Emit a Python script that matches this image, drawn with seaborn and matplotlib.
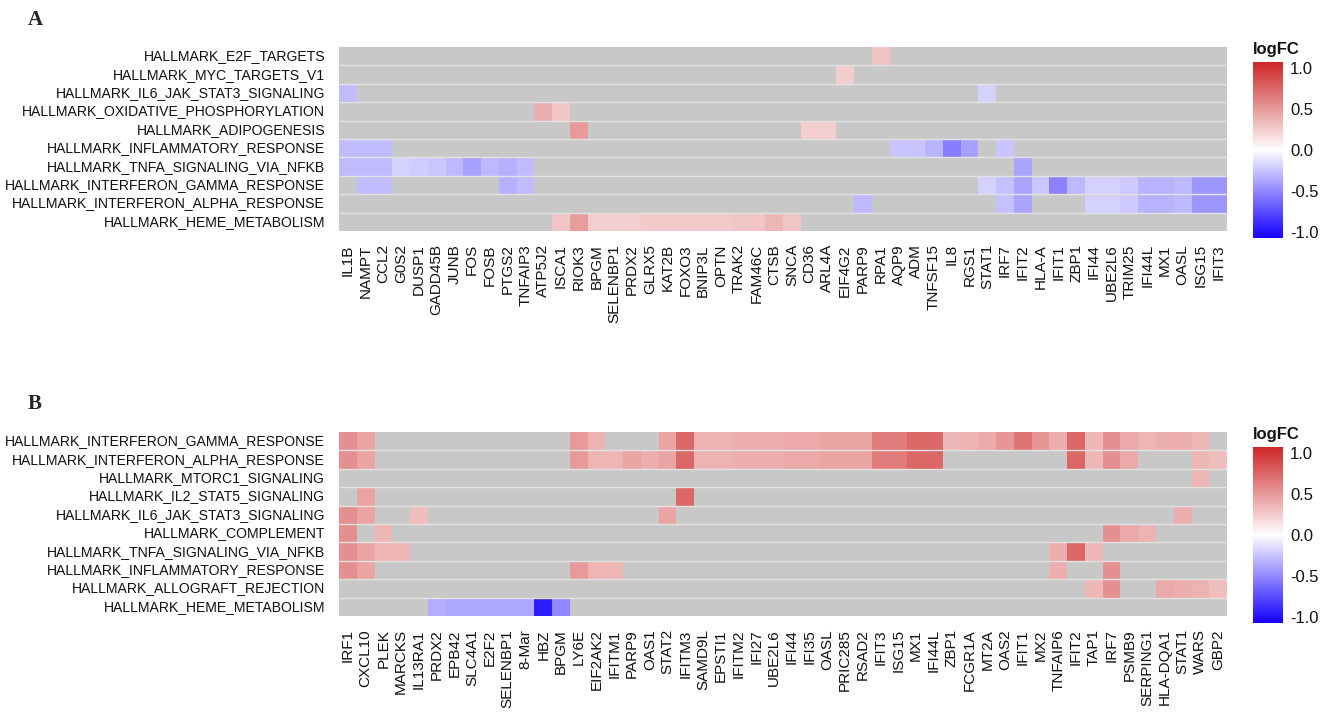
import numpy as np
import pandas as pd
import seaborn as sns
import matplotlib.pyplot as plt
from matplotlib.colors import LinearSegmentedColormap

# ---- panel A ----
genes_a = ["IL1B", "NAMPT", "CCL2", "G0S2", "DUSP1", "GADD45B", "JUNB", "FOS", "FOSB", "PTGS2",
           "TNFAIP3", "ATP5J2", "ISCA1", "RIOK3", "BPGM", "SELENBP1", "PRDX2", "GLRX5", "KAT2B", "FOXO3",
           "BNIP3L", "OPTN", "TRAK2", "FAM46C", "CTSB", "SNCA", "CD36", "ARL4A", "EIF4G2", "PARP9",
           "RPA1", "AQP9", "ADM", "TNFSF15", "IL8", "RGS1", "STAT1", "IRF7", "IFIT2", "HLA-A",
           "IFIT1", "ZBP1", "IFI44", "UBE2L6", "TRIM25", "IFI44L", "MX1", "OASL", "ISG15", "IFIT3"]
pathways_a = ["HALLMARK_E2F_TARGETS", "HALLMARK_MYC_TARGETS_V1", "HALLMARK_IL6_JAK_STAT3_SIGNALING",
              "HALLMARK_OXIDATIVE_PHOSPHORYLATION", "HALLMARK_ADIPOGENESIS", "HALLMARK_INFLAMMATORY_RESPONSE",
              "HALLMARK_TNFA_SIGNALING_VIA_NFKB", "HALLMARK_INTERFERON_GAMMA_RESPONSE",
              "HALLMARK_INTERFERON_ALPHA_RESPONSE", "HALLMARK_HEME_METABOLISM"]
a_e2f = {"RPA1": 0.30}
a_myc = {"EIF4G2": 0.25}
a_il6 = {"IL1B": -0.28, "STAT1": -0.20}
a_oxphos = {"ATP5J2": 0.40, "ISCA1": 0.28}
a_adipo = {"RIOK3": 0.50, "CD36": 0.24, "ARL4A": 0.24}
a_inflam = {"IL1B": -0.28, "NAMPT": -0.28, "CCL2": -0.28, "AQP9": -0.25, "ADM": -0.25,
            "TNFSF15": -0.31, "IL8": -0.55, "RGS1": -0.40, "IRF7": -0.25}
a_tnfa = {"IL1B": -0.28, "NAMPT": -0.28, "CCL2": -0.28, "G0S2": -0.20, "DUSP1": -0.21,
          "GADD45B": -0.24, "JUNB": -0.29, "FOS": -0.40, "FOSB": -0.30, "PTGS2": -0.33,
          "TNFAIP3": -0.28, "IFIT2": -0.38}
a_ifng = {"NAMPT": -0.28, "CCL2": -0.28, "PTGS2": -0.33, "TNFAIP3": -0.28, "STAT1": -0.20,
          "IRF7": -0.26, "IFIT2": -0.38, "HLA-A": -0.24, "IFIT1": -0.52, "ZBP1": -0.30,
          "IFI44": -0.20, "UBE2L6": -0.20, "TRIM25": -0.22, "IFI44L": -0.32, "MX1": -0.32,
          "OASL": -0.30, "ISG15": -0.44, "IFIT3": -0.44}
a_ifna = {"PARP9": -0.30, "IRF7": -0.26, "IFIT2": -0.38, "IFI44": -0.20, "UBE2L6": -0.20,
          "TRIM25": -0.22, "IFI44L": -0.32, "MX1": -0.32, "OASL": -0.30, "ISG15": -0.44,
          "IFIT3": -0.44}
a_heme = {"ISCA1": 0.28, "RIOK3": 0.48, "BPGM": 0.24, "SELENBP1": 0.24, "PRDX2": 0.24,
          "GLRX5": 0.26, "KAT2B": 0.26, "FOXO3": 0.26, "BNIP3L": 0.26, "OPTN": 0.26,
          "TRAK2": 0.28, "FAM46C": 0.28, "CTSB": 0.36, "SNCA": 0.28}
rows_a = [a_e2f, a_myc, a_il6, a_oxphos, a_adipo, a_inflam, a_tnfa, a_ifng, a_ifna, a_heme]

# ---- panel B ----
genes_b = ["IRF1", "CXCL10", "PLEK", "MARCKS", "IL13RA1", "PRDX2", "EPB42", "SLC4A1", "E2F2", "SELENBP1",
           "8-Mar", "HBZ", "BPGM", "LY6E", "EIF2AK2", "IFITM1", "PARP9", "OAS1", "STAT2", "IFITM3",
           "SAMD9L", "EPSTI1", "IFITM2", "IFI27", "UBE2L6", "IFI44", "IFI35", "OASL", "PRIC285", "RSAD2",
           "IFIT3", "ISG15", "MX1", "IFI44L", "ZBP1", "FCGR1A", "MT2A", "OAS2", "IFIT1", "MX2",
           "TNFAIP6", "IFIT2", "TAP1", "IRF7", "PSMB9", "SERPING1", "HLA-DQA1", "STAT1", "WARS", "GBP2"]
pathways_b = ["HALLMARK_INTERFERON_GAMMA_RESPONSE", "HALLMARK_INTERFERON_ALPHA_RESPONSE",
              "HALLMARK_MTORC1_SIGNALING", "HALLMARK_IL2_STAT5_SIGNALING", "HALLMARK_IL6_JAK_STAT3_SIGNALING",
              "HALLMARK_COMPLEMENT", "HALLMARK_TNFA_SIGNALING_VIA_NFKB", "HALLMARK_INFLAMMATORY_RESPONSE",
              "HALLMARK_ALLOGRAFT_REJECTION", "HALLMARK_HEME_METABOLISM"]
b_ifng = {"IRF1": 0.55, "CXCL10": 0.45, "LY6E": 0.50, "EIF2AK2": 0.38, "STAT2": 0.45, "IFITM3": 0.75,
          "SAMD9L": 0.38, "EPSTI1": 0.38, "IFITM2": 0.40, "IFI27": 0.40, "UBE2L6": 0.40, "IFI44": 0.42,
          "IFI35": 0.42, "OASL": 0.45, "PRIC285": 0.45, "RSAD2": 0.45, "IFIT3": 0.65, "ISG15": 0.65,
          "MX1": 0.75, "IFI44L": 0.75, "ZBP1": 0.35, "FCGR1A": 0.38, "MT2A": 0.42, "OAS2": 0.52,
          "IFIT1": 0.68, "MX2": 0.52, "TNFAIP6": 0.40, "IFIT2": 0.75, "TAP1": 0.35, "IRF7": 0.55,
          "PSMB9": 0.42, "SERPING1": 0.36, "HLA-DQA1": 0.40, "STAT1": 0.40, "WARS": 0.36}
b_ifna = {"IRF1": 0.55, "CXCL10": 0.45, "LY6E": 0.50, "EIF2AK2": 0.36, "IFITM1": 0.36, "PARP9": 0.45,
          "OAS1": 0.40, "STAT2": 0.45, "IFITM3": 0.75, "SAMD9L": 0.38, "EPSTI1": 0.38, "IFITM2": 0.40,
          "IFI27": 0.40, "UBE2L6": 0.40, "IFI44": 0.42, "IFI35": 0.42, "OASL": 0.45, "PRIC285": 0.45,
          "RSAD2": 0.45, "IFIT3": 0.65, "ISG15": 0.65, "MX1": 0.75, "IFI44L": 0.75, "IFIT2": 0.75,
          "TAP1": 0.35, "IRF7": 0.55, "PSMB9": 0.42, "WARS": 0.36, "GBP2": 0.32}
b_mtorc1 = {"WARS": 0.36}
b_il2 = {"CXCL10": 0.45, "IFITM3": 0.75}
b_il6 = {"IRF1": 0.55, "CXCL10": 0.45, "IL13RA1": 0.33, "STAT2": 0.45, "STAT1": 0.40}
b_compl = {"IRF1": 0.55, "PLEK": 0.36, "IRF7": 0.55, "PSMB9": 0.42, "SERPING1": 0.38}
b_tnfa = {"IRF1": 0.55, "CXCL10": 0.45, "PLEK": 0.36, "MARCKS": 0.36, "TNFAIP6": 0.40,
          "IFIT2": 0.75, "TAP1": 0.35}
b_inflam = {"IRF1": 0.55, "CXCL10": 0.45, "LY6E": 0.50, "EIF2AK2": 0.36, "IFITM1": 0.36,
            "TNFAIP6": 0.40, "IRF7": 0.55}
b_allo = {"TAP1": 0.35, "IRF7": 0.55, "HLA-DQA1": 0.42, "STAT1": 0.40, "WARS": 0.38, "GBP2": 0.32}
b_heme = {"PRDX2": -0.35, "EPB42": -0.36, "SLC4A1": -0.36, "E2F2": -0.36, "SELENBP1": -0.36,
          "8-Mar": -0.36, "HBZ": -0.95, "BPGM": -0.50}
rows_b = [b_ifng, b_ifna, b_mtorc1, b_il2, b_il6, b_compl, b_tnfa, b_inflam, b_allo, b_heme]


def build_frame(rows, pathways, genes):
    df = pd.DataFrame(np.nan, index=pathways, columns=genes)
    for name, vals in zip(pathways, rows):
        for g, v in vals.items():
            df.loc[name, g] = v
    return df


sns.set_theme(style="white")
plt.rcParams['font.family'] = ['Liberation Sans', 'DejaVu Sans']

cmap = LinearSegmentedColormap.from_list("logfc", [(0.0, "#1400ff"), (0.5, "#ffffff"), (1.0, "#cd2626")])
txt = "#111111"

fig = plt.figure(figsize=(13.31, 7.18), dpi=100)

panels = [
    (build_frame(rows_a, pathways_a, genes_a), 0.6783, 0.6685, "A", 0.972),
    (build_frame(rows_b, pathways_b, genes_b), 0.1421, 0.1323, "B", 0.437),
]

for df, hb, cb, letter, ly in panels:
    ax = fig.add_axes([0.2547, hb, 0.6672, 0.2563])
    cax = fig.add_axes([0.9414, cb, 0.0225, 0.2451])
    sns.heatmap(df, ax=ax, cmap=cmap, vmin=-1.07, vmax=1.07, cbar_ax=cax,
                xticklabels=True, yticklabels=True,
                cbar_kws={"ticks": [-1, -0.5, 0, 0.5, 1]})
    ax.set_facecolor("#c8c8c8")
    for y in range(1, len(df.index)):
        ax.axhline(y, color="#e2e2e2", lw=1)
    ax.set_xlabel("")
    ax.set_ylabel("")
    ax.tick_params(axis="both", length=0, colors=txt)
    ax.tick_params(axis="y", pad=10, labelsize=10.05)
    ax.tick_params(axis="x", pad=9.5, labelsize=11)
    plt.setp(ax.get_xticklabels(), rotation=90, ha="center", va="top")
    plt.setp(ax.get_yticklabels(), rotation=0)

    cbar = ax.collections[0].colorbar
    cbar.outline.set_visible(False)
    cax.set_yticklabels(["-1.0", "-0.5", "0.0", "0.5", "1.0"])
    cax.tick_params(axis="y", direction="in", color="white", length=6, width=1,
                    left=True, right=True, labelsize=12, pad=5, labelcolor=txt)
    cax.set_title("logFC", fontsize=12, fontweight="bold", loc="left", pad=6, color=txt)

    fig.text(0.021, ly, letter, fontsize=15, fontweight="bold",
             family=["Liberation Serif", "DejaVu Serif"], va="center", ha="left")

fig.savefig("out.png", dpi=100, facecolor="white")
